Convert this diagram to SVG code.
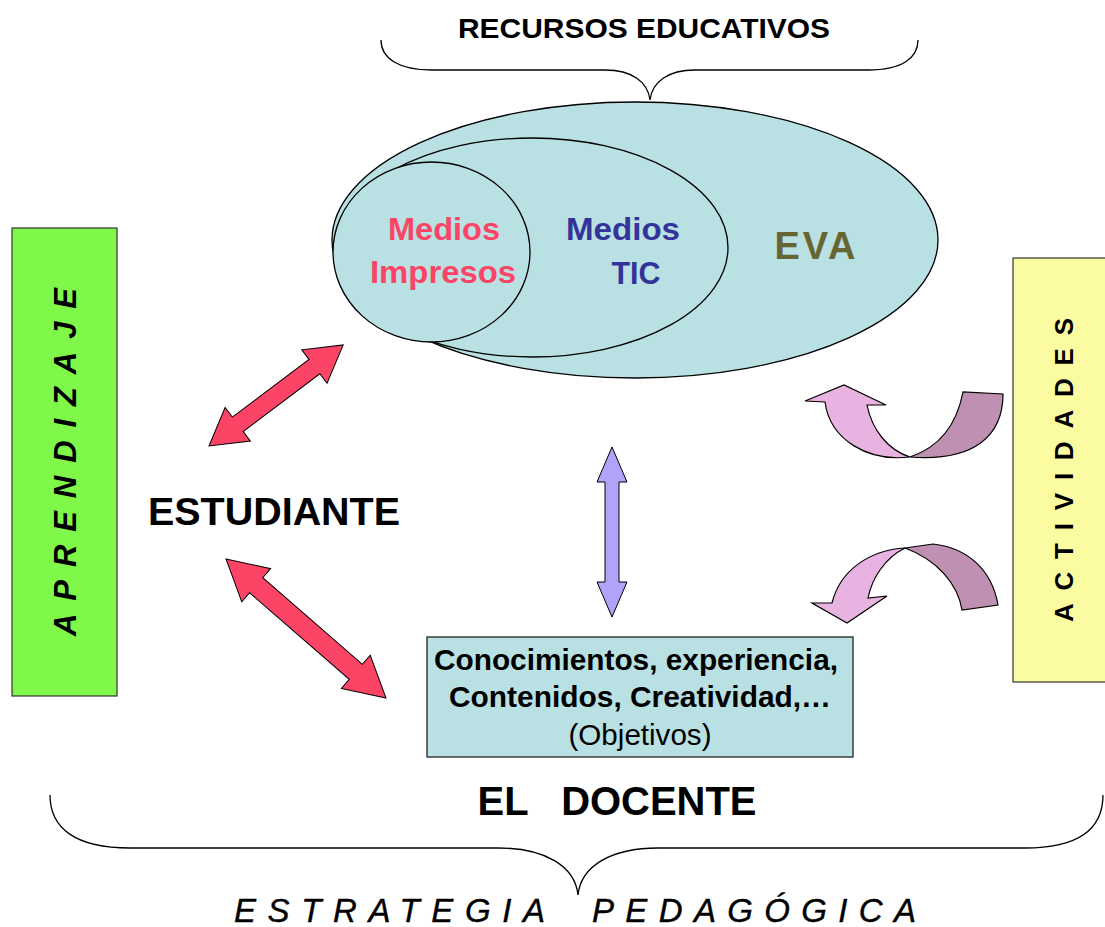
<svg xmlns="http://www.w3.org/2000/svg" width="1105" height="927" viewBox="0 0 1105 927">
<style>
text{font-family:"Liberation Sans",Arial,sans-serif;font-weight:bold;fill:#000}
.ln{fill:none;stroke:#000;stroke-width:1.3}
.ell{fill:#b9e0e3;stroke:#000;stroke-width:1.3}
.red{fill:#fc4466;stroke:#000;stroke-width:1}
.lav{fill:#b3a2fa;stroke:#000;stroke-width:1}
.lt{fill:#e8b3e0;stroke:#000;stroke-width:1.2}
.dk{fill:#bf90b2;stroke:#000;stroke-width:1.2}
.est{font-size:33px;font-style:italic;font-weight:normal;stroke:#000;stroke-width:0.4}
</style>
<rect width="1105" height="927" fill="#fff"/>

<g id="recursos-brace">
<path class="ln" d="M381,40 C381,58 398,70 432,70 L605,70 C632,70 648,82 650,100 C652,82 668,70 695,70 L868,70 C902,70 918,58 918,40"/>
<text x="644" y="38" font-size="28" text-anchor="middle" textLength="372" lengthAdjust="spacingAndGlyphs">RECURSOS EDUCATIVOS</text>
</g>

<g id="recursos">
<ellipse class="ell" cx="635" cy="240" rx="303" ry="138"/>
<ellipse class="ell" cx="532" cy="247.5" rx="196" ry="109.5"/>
<ellipse class="ell" cx="431.5" cy="252" rx="98.5" ry="90"/>
<text x="444" y="240" font-size="32" text-anchor="middle" style="fill:#fc4466" textLength="112" lengthAdjust="spacingAndGlyphs">Medios</text>
<text x="443" y="283" font-size="32" text-anchor="middle" style="fill:#fc4466" textLength="146" lengthAdjust="spacingAndGlyphs">Impresos</text>
<text x="623" y="240" font-size="32" text-anchor="middle" style="fill:#333399" textLength="114" lengthAdjust="spacingAndGlyphs">Medios</text>
<text x="636" y="284" font-size="32" text-anchor="middle" style="fill:#333399" textLength="49" lengthAdjust="spacingAndGlyphs">TIC</text>
<text x="815" y="259" font-size="38" text-anchor="middle" style="fill:#666633" textLength="81" lengthAdjust="spacing">EVA</text>
</g>

<g id="aprendizaje">
<rect x="12" y="228" width="105" height="468" fill="#7ff84a" stroke="#333" stroke-width="1.2"/>
<text transform="translate(76,462) rotate(-90)" font-size="31" font-style="italic" text-anchor="middle" textLength="348" lengthAdjust="spacing">APRENDIZAJE</text>
</g>

<g id="actividades">
<rect x="1013" y="258" width="100" height="424" fill="#fbfba1" stroke="#333" stroke-width="1.2"/>
<text transform="translate(1073,470) rotate(-90)" font-size="26" text-anchor="middle" textLength="304" lengthAdjust="spacing">ACTIVIDADES</text>
</g>

<g id="estudiante">
<text x="274" y="525" font-size="38" text-anchor="middle" textLength="252" lengthAdjust="spacingAndGlyphs">ESTUDIANTE</text>
</g>

<g id="docente-box">
<rect x="427" y="637" width="426" height="120" fill="#b9e0e3" stroke="#222" stroke-width="1.3"/>
<text x="636" y="670" font-size="29.5" text-anchor="middle" textLength="404" lengthAdjust="spacingAndGlyphs">Conocimientos, experiencia,</text>
<text x="640" y="707" font-size="29.5" text-anchor="middle" textLength="382" lengthAdjust="spacingAndGlyphs">Contenidos, Creatividad,…</text>
<text x="640" y="745" font-size="29.5" style="font-weight:normal" text-anchor="middle" textLength="143" lengthAdjust="spacingAndGlyphs">(Objetivos)</text>
</g>

<g id="docente-brace">
<path class="ln" d="M50,795 C50,828 75,848 130,848 L498,848 C545,848 575,866 578,895 C581,866 611,848 658,848 L1025,848 C1080,848 1103,828 1103,795"/>
<text xml:space="preserve" x="617" y="815" font-size="41" text-anchor="middle" textLength="279" lengthAdjust="spacingAndGlyphs" style="white-space:pre">EL   DOCENTE</text>
<text class="est" x="234" y="922" textLength="311" lengthAdjust="spacing">ESTRATEGIA</text>
<text class="est" x="592" y="922" textLength="324" lengthAdjust="spacing">PEDAGÓGICA</text>
</g>

<g id="connectors">
<polygon class="red" transform="translate(209,446) rotate(-37)" points="0,0 36,-21 36,-9 132,-9 132,-21 168,0 132,21 132,9 36,9 36,21"/>
<polygon class="red" transform="translate(226,559) rotate(41)" points="0,0 40,-22 40,-10 172,-10 172,-22 212,0 172,22 172,10 40,10 40,22"/>
<polygon class="lav" points="612,447 627,482 619,482 619,582 627,582 612,617 597,582 605,582 605,482 597,482"/>
<path class="dk" d="M910,457 C940,447 957,423 963,392 L1003,394 C1003,435 975,462 910,457 Z"/>
<path class="lt" d="M805,401 L844,385 L886,405 L867,405 C872,430 888,450 910,457 C868,462 830,440 825,402 Z"/>
<path class="dk" d="M905,548 L933,544 C968,548 992,570 998,605 L962,610 C958,585 938,560 905,548 Z"/>
<path class="lt" d="M905,548 C870,550 840,570 832,603 L812,603 L847,623 L887,596 L868,598 C872,578 885,558 905,548 Z"/>
</g>
</svg>
